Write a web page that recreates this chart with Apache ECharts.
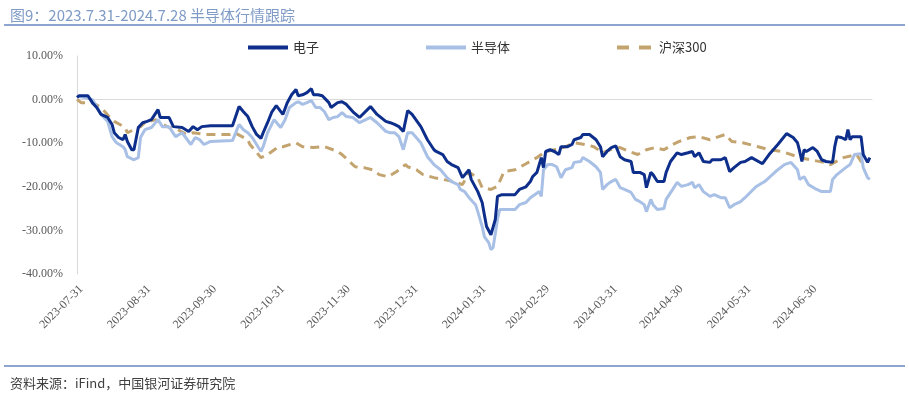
<!DOCTYPE html>
<html>
<head>
<meta charset="utf-8">
<script src="https://cdn.jsdelivr.net/npm/echarts@6/dist/echarts.min.js"></script>
<style>
  html, body { margin: 0; padding: 0; background: #fff; }
  #chart { width: 909px; height: 396px; }
</style>
</head>
<body>
<div id="chart"></div>
<script>
// 横轴按自然日计（0 = 2023-07-31），纵轴为累计涨跌幅 %
var tickDays = [0, 31, 61, 92, 122, 153, 184, 213, 244, 274, 305, 335];
var tickLabels = ['2023-07-31', '2023-08-31', '2023-09-30', '2023-10-31', '2023-11-30', '2023-12-31',
    '2024-01-31', '2024-02-29', '2024-03-31', '2024-04-30', '2024-05-31', '2024-06-30'];
var yTicks = [-40, -30, -20, -10, 0, 10];
var seriesNames = ['电子', '半导体', '沪深300'];

// 电子
var dianziDays = [0, 1, 5, 7, 9, 11, 14, 16, 17, 19, 21, 22, 23, 25, 26, 28, 30, 32, 34, 37, 38, 42, 44, 48, 51, 53, 55, 57, 61, 71,
    74, 76, 78, 80, 82, 84, 85, 87, 89, 91, 94, 96, 98, 100, 101, 103, 105, 107, 108, 110, 112, 115, 116, 119, 121, 123, 126, 129,
    134, 137, 141, 143, 145, 147, 149, 151, 153, 157, 160, 163, 164, 167, 169, 171, 174, 176, 179, 180, 183, 185, 186, 187, 189, 191,
    192, 194, 200, 202, 205, 207, 208, 210, 212, 213, 214, 216, 218, 220, 221, 224, 226, 227, 230, 231, 234, 237, 239, 240, 242, 244,
    246, 248, 250, 253, 254, 257, 259, 260, 262, 263, 265, 268, 269, 271, 274, 276, 279, 281, 282, 284, 286, 289, 290, 294, 296, 298,
    300, 303, 305, 308, 313, 316, 320, 324, 327, 329, 330, 331, 332, 333, 336, 338, 340, 342, 345, 346, 347, 349, 351, 352, 353, 354,
    358, 359, 361, 362];
var dianziVals = [0.5, 0.9, 0.9, -0.7, -1.8, -3.4, -4.1, -5.7, -7.6, -8.7, -9.2, -8.0, -9.6, -11.5, -11.5, -6.4, -5.3, -5.0, -4.6, -2.3, -4.1, -4.1, -6.2, -6.4, -7.3, -6.2, -6.9, -6.2, -6.0, -6.0,
    -1.6, -2.8, -3.9, -6.2, -8.0, -8.9, -7.6, -5.3, -2.8, -1.4, -3.4, -0.7, 1.1, 2.3, 0.9, 1.1, 1.6, 2.5, 1.1, 1.1, 0.9, -0.7, -1.8, -0.7, -0.5, -1.1, -2.8, -4.1,
    -1.6, -3.4, -5.0, -5.3, -5.7, -6.2, -7.3, -2.5, -3.4, -6.2, -9.2, -11.5, -11.9, -12.6, -14.2, -14.9, -15.6, -17.9, -16.1, -18.3, -21.1, -23.6, -26.4, -29.1, -31.0, -27.5,
    -22.2, -21.8, -21.8, -20.6, -20.0, -18.8, -17.7, -16.7, -13.3, -15.6, -11.9, -11.5, -11.9, -12.6, -10.8, -10.8, -10.3, -9.2, -8.7, -8.0, -8.0, -9.2, -10.8, -13.1, -11.9, -11.0,
    -10.6, -13.1, -13.8, -14.2, -16.7, -16.7, -17.2, -20.2, -16.7, -17.2, -18.8, -18.8, -16.7, -14.2, -12.2, -12.6, -12.2, -11.9, -13.1, -12.2, -14.2, -14.4, -13.8, -13.8, -13.3, -16.5,
    -15.6, -14.4, -14.2, -13.3, -14.7, -12.6, -10.3, -7.8, -8.7, -9.9, -11.9, -14.2, -11.5, -11.9, -11.0, -11.9, -13.8, -14.2, -14.4, -10.8, -8.5, -8.7, -9.2, -6.9, -9.2, -8.5,
    -8.5, -12.6, -14.4, -13.3];

// 半导体
var bandaotiDays = [0, 1, 4, 7, 9, 11, 14, 16, 18, 21, 22, 23, 26, 28, 29, 31, 34, 37, 39, 42, 45, 48, 52, 54, 56, 58, 61, 71,
    74, 76, 78, 80, 82, 84, 85, 87, 90, 93, 95, 97, 100, 101, 103, 105, 107, 109, 111, 113, 115, 117, 119, 121, 123, 126, 129,
    134, 137, 141, 143, 145, 147, 149, 151, 153, 157, 160, 163, 166, 169, 171, 174, 175, 177, 179, 182, 183, 185, 186, 188, 189, 190,
    192, 193, 200, 202, 205, 207, 209, 211, 212, 213, 215, 217, 219, 221, 223, 226, 227, 230, 231, 234, 237, 239, 240, 242, 244,
    246, 248, 250, 253, 255, 257, 259, 260, 262, 263, 265, 268, 269, 272, 274, 276, 279, 281, 282, 284, 286, 289, 291, 294, 296, 298,
    300, 303, 305, 310, 314, 319, 323, 326, 329, 330, 332, 334, 337, 340, 344, 345, 347, 351, 353, 355, 358, 359, 361, 362];
var bandaotiVals = [0.5, 0.7, 0.5, 0.0, -1.6, -3.4, -5.0, -8.5, -9.9, -10.8, -11.5, -13.1, -13.8, -13.3, -8.7, -6.9, -6.4, -4.6, -6.2, -6.2, -8.5, -7.6, -10.3, -8.7, -9.2, -10.3, -9.6, -9.4,
    -5.7, -6.9, -7.6, -8.7, -10.3, -11.9, -10.8, -7.6, -4.6, -6.4, -4.6, -1.8, -0.7, -0.5, -1.1, -0.7, -0.2, -1.8, -1.8, -2.8, -4.6, -4.1, -3.9, -3.0, -3.9, -4.1, -5.3,
    -4.1, -5.3, -7.3, -7.6, -7.6, -8.5, -11.5, -7.6, -7.6, -9.9, -13.1, -14.9, -16.1, -17.9, -18.8, -19.5, -20.6, -21.1, -22.5, -24.1, -25.7, -29.1, -31.4, -32.8, -34.4, -33.9,
    -27.5, -25.2, -25.2, -24.1, -23.6, -22.5, -21.8, -21.1, -22.2, -16.1, -14.9, -14.9, -15.4, -17.9, -16.1, -15.6, -14.4, -14.2, -13.3, -14.2, -15.4, -16.7, -20.6, -19.5, -18.8,
    -18.3, -20.2, -20.6, -21.3, -22.9, -23.4, -24.1, -25.7, -22.9, -24.1, -25.2, -25.0, -22.9, -20.6, -19.0, -19.9, -19.5, -19.0, -20.2, -19.5, -21.1, -22.2, -21.8, -22.5, -22.5, -24.8,
    -24.1, -23.4, -22.5, -20.0, -18.8, -16.5, -14.9, -14.4, -16.1, -18.3, -17.7, -19.5, -20.4, -21.1, -21.1, -18.3, -17.2, -15.6, -14.9, -12.6, -12.4, -15.6, -17.9, -18.3];

// 沪深300
var hs300Days = [0, 2, 7, 11, 15, 17, 22, 23, 29, 31, 36, 38, 42, 46, 50, 53, 59, 64, 70, 72, 78, 79, 84, 87, 92, 94, 100, 103,
    108, 113, 119, 121, 127, 131, 135, 138, 142, 146, 150, 151, 155, 158, 163, 167, 172, 176, 179, 183, 185, 189, 192, 195, 200, 205,
    210, 214, 218, 223, 227, 232, 236, 240, 245, 248, 252, 256, 260, 264, 268, 272, 275, 280, 284, 289, 296, 299, 304, 311, 316, 322,
    330, 335, 341, 344, 350, 356, 358, 361];
var hs300Vals = [0.0, -0.7, -0.7, -1.8, -4.1, -5.0, -6.4, -7.6, -6.2, -5.3, -4.6, -5.3, -6.4, -6.9, -8.0, -7.6, -8.0, -8.0, -8.0, -7.6, -9.2, -10.3, -13.3, -12.6, -10.8, -10.8, -9.9, -10.8,
    -11.0, -10.8, -11.9, -12.6, -15.4, -15.6, -16.1, -17.2, -17.7, -16.5, -14.9, -15.4, -16.1, -17.2, -17.9, -18.3, -18.8, -19.5, -16.7, -17.9, -20.2, -20.6, -19.9, -16.5, -16.1, -14.7,
    -13.3, -11.9, -11.5, -10.8, -9.9, -10.3, -10.8, -12.2, -11.2, -11.0, -11.9, -12.6, -11.5, -11.0, -11.5, -10.3, -9.6, -8.7, -8.5, -9.2, -8.0, -9.6, -9.9, -10.8, -11.5, -11.9,
    -13.3, -13.8, -14.4, -14.9, -13.3, -12.6, -14.2, -14.4];

var lineColors = ['#0d2e8a', '#a8bfe6', '#c3a46f'];

function zip(xs, ys) {
    var out = [];
    for (var i = 0; i < xs.length; i++) out.push([xs[i], ys[i]]);
    return out;
}

// 图例只画线段，沪深300 用两段虚线
var solidIcon = 'path://M0,0H40V4H0Z';
var dashIcon = 'path://M2,0H14V4H2Z M24,0H36V4H24Z';

var chart = echarts.init(document.getElementById('chart'), null, { renderer: 'canvas' });
chart.setOption({
    animation: false,
    backgroundColor: '#fff',
    title: [
        {
            text: '图9：2023.7.31-2024.7.28 半导体行情跟踪',
            left: 5,
            top: 3,
            textStyle: { fontSize: 15, fontWeight: 'normal', color: '#7f9bc6', fontFamily: 'Noto Sans CJK SC' }
        },
        {
            text: '资料来源：iFind，中国银河证券研究院',
            left: 5,
            top: 372,
            textStyle: { fontSize: 13, fontWeight: 'normal', color: '#404040', fontFamily: 'Noto Sans CJK SC' }
        }
    ],
    graphic: [
        { type: 'line', shape: { x1: 4, y1: 25, x2: 905, y2: 25 }, style: { stroke: '#8ca6cf', lineWidth: 2 } },
        { type: 'line', shape: { x1: 4, y1: 366, x2: 905, y2: 366 }, style: { stroke: '#8ca6cf', lineWidth: 2 } }
    ],
    legend: {
        data: [
            { name: seriesNames[0], icon: solidIcon },
            { name: seriesNames[1], icon: solidIcon },
            { name: seriesNames[2], icon: dashIcon }
        ],
        left: 243,
        top: 36,
        itemGap: 107,
        itemWidth: 40,
        itemHeight: 4,
        textStyle: { fontSize: 13, color: '#333', fontFamily: 'Noto Sans CJK SC' }
    },
    grid: { left: 77, right: 37, top: 56, bottom: 122 },
    xAxis: {
        type: 'value',
        min: 0,
        max: 363,
        splitLine: { show: false },
        axisLine: { lineStyle: { color: '#d9d9d9', width: 1 } },
        axisTick: { show: false },
        axisLabel: {
            customValues: tickDays,
            rotate: 45,
            margin: 9,
            verticalAlign: 'top',
            color: '#595959',
            fontSize: 12,
            fontFamily: 'Liberation Serif',
            formatter: function (v) {
                var i = tickDays.indexOf(v);
                return i >= 0 ? tickLabels[i] : '';
            }
        }
    },
    yAxis: {
        type: 'value',
        min: yTicks[0],
        max: yTicks[yTicks.length - 1],
        interval: 10,
        splitLine: { show: false },
        axisLine: { show: true, lineStyle: { color: '#d9d9d9', width: 1 } },
        axisTick: { show: false },
        axisLabel: {
            margin: 14,
            color: '#595959',
            fontSize: 12,
            fontFamily: 'Liberation Serif',
            formatter: function (v) { return v.toFixed(2) + '%'; }
        }
    },
    series: [
        {
            name: seriesNames[0],
            type: 'line',
            data: zip(dianziDays, dianziVals),
            symbol: 'none',
            z: 4,
            itemStyle: { color: lineColors[0] },
            lineStyle: { color: lineColors[0], width: 3 }
        },
        {
            name: seriesNames[1],
            type: 'line',
            data: zip(bandaotiDays, bandaotiVals),
            symbol: 'none',
            z: 3,
            itemStyle: { color: lineColors[1] },
            lineStyle: { color: lineColors[1], width: 3 }
        },
        {
            name: seriesNames[2],
            type: 'line',
            data: zip(hs300Days, hs300Vals),
            symbol: 'none',
            z: 2,
            itemStyle: { color: lineColors[2] },
            lineStyle: { color: lineColors[2], width: 3, type: [9, 6] }
        }
    ]
});
</script>
</body>
</html>
